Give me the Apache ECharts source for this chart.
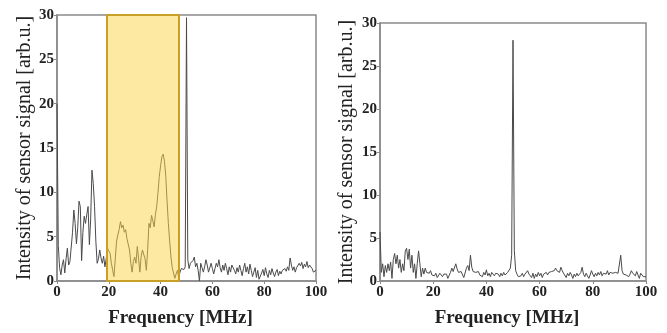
<!DOCTYPE html>
<html>
<head>
<meta charset="utf-8">
<script src="https://cdn.jsdelivr.net/npm/echarts@6/dist/echarts.min.js"></script>
<style>html,body{margin:0;padding:0;background:#fff}#c{width:667px;height:333px}</style>
</head>
<body>
<div id="c"></div>
<script>
// Frequency step of the sampled spectra (MHz)
const freqStep = 0.5;
const xTicks = [0, 20, 40, 60, 80, 100];
const yTicks = [0, 5, 10, 15, 20, 25, 30];
const highlightBand = [19.3, 47.1]; // MHz, shaded region in left panel

const leftSignal = [
20,4.0,1.5,0.7,1.8,2.4,0.9,2.5,3.7,1.8,
2.2,2.0,5.5,8.0,6.5,4.2,6.0,9.0,8.4,2.3,
5.5,7.3,6.5,7.5,8.4,4.1,7.0,12.5,11.0,8.4,
4.5,2.0,2.5,3.5,2.6,2.0,2.8,1.6,2.5,3.7,
3.4,3.1,2.0,1.2,0.5,2.5,4.5,5.2,5.8,6.7,
6.0,6.3,5.5,5.8,4.8,5.0,3.5,2.0,1.0,2.2,
2.7,2.0,3.9,2.5,1.0,2.8,3.5,3.7,2.5,1.2,
3.5,6.5,6.0,7.4,6.8,6.1,7.5,8.4,10.0,11.8,
13.0,14.0,14.3,13.5,11.8,9.0,6.5,4.5,2.7,1.5,
0.9,0.3,0.8,1.2,0.4,1.0,1.4,1.6,1.3,1.6,
29.7,2.4,1.4,2.0,1.8,2.3,2.7,1.6,2.0,1.2,
0.0,2.0,1.5,1.0,1.6,2.4,1.8,1.0,1.2,2.0,
1.4,0.8,1.4,2.0,1.6,2.4,1.5,1.0,1.8,1.2,
2.0,1.4,0.7,1.6,1.0,1.8,2.0,1.2,0.8,1.5,
1.0,1.8,1.2,0.6,1.4,2.0,1.0,1.6,0.8,1.9,
1.2,0.5,1.0,1.5,0.4,1.2,0.2,0.1,0.9,1.3,
0.6,1.5,0.8,0.4,1.2,0.7,1.4,0.9,0.5,1.0,
1.3,0.6,1.1,0.8,1.2,1.0,1.4,1.1,1.6,1.2,
2.6,1.8,1.2,1.6,1.0,1.5,1.3,2.0,1.7,2.1,
1.4,1.9,1.6,2.2,1.5,1.8,2.0,1.4,1.0,1.2,
1.2];

const rightSignal = [
5.7,1.0,2.0,0.5,1.8,1.0,2.0,1.2,2.2,0.3,
2.5,3.2,2.0,3.0,1.5,2.5,1.0,2.0,1.2,3.5,
3.8,2.5,3.7,1.5,3.0,1.0,2.0,0.3,2.0,3.5,
2.0,0.5,1.5,0.8,1.5,1.0,1.2,0.9,1.2,0.7,
0.9,0.6,0.9,0.4,0.6,0.9,0.7,0.5,0.8,0.6,
0.8,0.3,0.2,1.0,1.5,1.1,1.3,2.0,1.4,1.0,
0.8,1.1,0.9,0.4,0.6,1.5,1.8,1.2,3.0,1.6,
1.1,0.9,1.0,0.8,1.1,0.7,0.9,0.5,1.0,0.7,
1.3,0.6,0.9,0.5,1.0,1.2,0.6,0.9,0.7,0.8,
0.5,0.9,0.6,1.0,0.7,0.9,1.0,0.8,1.5,3.0,
28.0,3.5,1.2,0.8,0.5,0.7,0.6,0.9,0.5,0.8,
1.0,1.2,0.8,1.0,0.4,0.9,0.3,0.8,0.5,1.0,
0.6,0.9,0.4,0.8,0.6,1.0,0.7,1.0,0.8,1.1,
0.9,1.2,1.5,1.2,1.4,1.0,1.6,1.2,0.9,1.0,
0.4,0.9,0.6,1.0,0.7,0.3,0.8,0.5,0.9,0.6,
0.8,1.0,1.6,0.8,0.5,0.9,0.6,0.3,0.7,1.2,
0.8,0.5,0.9,0.6,1.0,0.7,1.1,0.6,0.9,1.0,
0.8,1.2,0.7,1.0,0.8,0.9,0.7,1.0,0.8,0.9,
1.0,3.0,1.2,0.8,1.0,0.7,0.9,0.5,0.8,1.2,
0.9,1.0,0.6,1.1,0.7,0.3,0.9,0.8,0.5,0.7,
0.5];

const xName = 'Frequency [MHz]';
const yName = 'Intensity of sensor signal [arb.u.]';

function pairs(vals){ return vals.map((v,i)=>[i*freqStep, v]); }

const font = 'Liberation Serif';
const axisCol = '#8a8a8a';
function xAxis(gi){
  return {
    gridIndex: gi, type: 'value', min: xTicks[0], max: xTicks[xTicks.length-1], interval: 20,
    name: xName, nameLocation: 'middle', nameGap: 28,
    nameTextStyle: {fontFamily: font, fontSize: 19, fontWeight: 'bold', color: '#222', padding: [0, 12, 0, 0]},
    axisLine: {show: true, lineStyle: {color: axisCol, width: 1.5}},
    axisTick: {show: true, length: 3, inside: false, lineStyle: {color: axisCol}},
    axisLabel: {fontFamily: font, fontSize: 15, fontWeight: 'bold', color: '#222', margin: 4},
    splitLine: {show: false}
  };
}
function yAxis(gi, gap){
  return {
    gridIndex: gi, type: 'value', min: yTicks[0], max: yTicks[yTicks.length-1], interval: 5,
    name: yName, nameLocation: 'middle', nameGap: gap, nameRotate: 90,
    nameTextStyle: {fontFamily: font, fontSize: 20, color: '#222'},
    axisLine: {show: true, lineStyle: {color: axisCol, width: 1.5}},
    axisTick: {show: true, length: 3, inside: false, lineStyle: {color: axisCol}},
    axisLabel: {fontFamily: font, fontSize: 15, fontWeight: 'bold', color: '#222', margin: 3},
    splitLine: {show: false}
  };
}

const chart = echarts.init(document.getElementById('c'), null, {renderer: 'canvas'});
chart.setOption({
  animation: false,
  backgroundColor: '#fff',
  grid: [
    {left: 57, top: 15, width: 259, height: 269, show: true, borderColor: axisCol, borderWidth: 1.5, backgroundColor: 'transparent'},
    {left: 380, top: 23, width: 266, height: 259, show: true, borderColor: axisCol, borderWidth: 1.5, backgroundColor: 'transparent'}
  ],
  xAxis: [xAxis(0), xAxis(1)],
  yAxis: [yAxis(0, 22), yAxis(1, 23)],
  series: [
    {type: 'line', xAxisIndex: 0, yAxisIndex: 0, data: pairs(leftSignal), showSymbol: false,
     lineStyle: {color: '#4a4a4a', width: 1}, z: 2},
    {type: 'line', xAxisIndex: 0, yAxisIndex: 0, data: [], showSymbol: false, z: 5,
     markArea: {silent: true, z: 5,
       itemStyle: {color: 'rgba(252,212,70,0.5)', borderColor: '#c8a028', borderWidth: 2},
       data: [[{xAxis: highlightBand[0], yAxis: yTicks[yTicks.length-1]}, {xAxis: highlightBand[1], yAxis: yTicks[0]}]]}},
    {type: 'line', xAxisIndex: 1, yAxisIndex: 1, data: pairs(rightSignal), showSymbol: false,
     lineStyle: {color: '#4a4a4a', width: 1}, z: 2}
  ]
});
</script>
</body>
</html>
